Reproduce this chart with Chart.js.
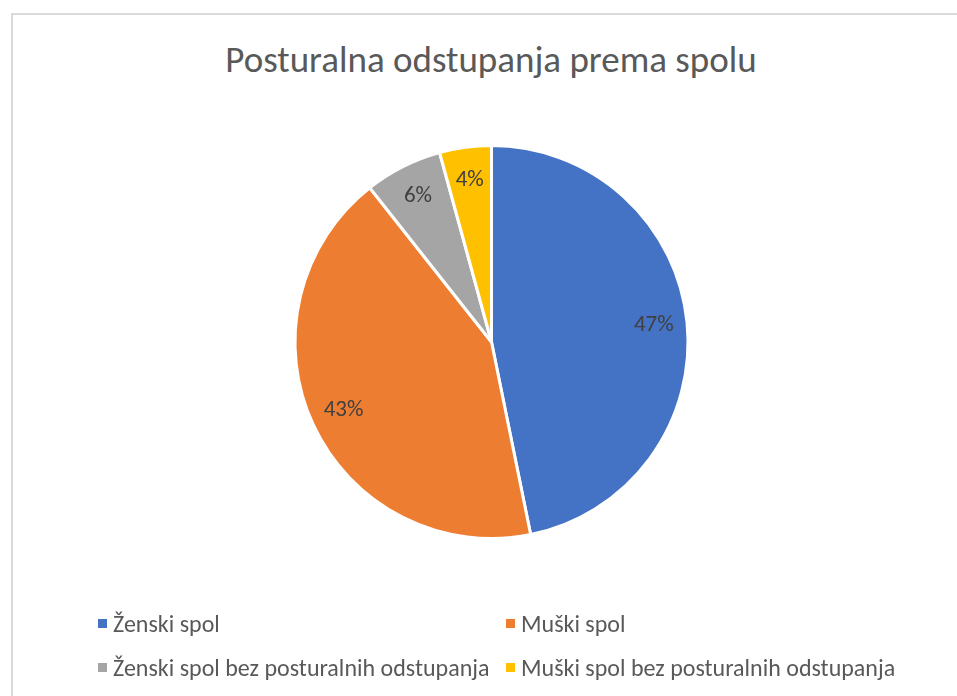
<!DOCTYPE html>
<html>
<head>
<meta charset="utf-8">
<script src="https://cdn.jsdelivr.net/npm/chart.js@4/dist/chart.umd.min.js"></script>
<style>
  body { margin: 0; background: #fff; font-family: Carlito, "Open Sans", sans-serif; }
  #wrap { position: relative; width: 957px; height: 696px; overflow: hidden; }
  #frame { position: absolute; left: 11px; top: 13px; right: -10px; bottom: -10px;
           border-top: 2px solid #d9d9d9; border-left: 2px solid #d9d9d9; }
  #title { position: absolute; left: 0; width: 982px; top: 37px; text-align: center;
           font-size: 37px; color: #595959; line-height: normal; }
  canvas { position: absolute; left: 0; top: 0; }
  .leg { position: absolute; font-size: 24px; color: #595959; white-space: nowrap; line-height: normal; }
  .leg i { position: absolute; left: -15px; top: 10px; width: 9px; height: 9px; }
</style>
</head>
<body>
<div id="wrap">
  <div id="frame"></div>
  <div id="title">Posturalna odstupanja prema spolu</div>
  <canvas id="c" width="957" height="696"></canvas>
  <div id="legend"></div>
</div>
<script>
// data
const labels = ['Ženski spol', 'Muški spol', 'Ženski spol bez posturalnih odstupanja', 'Muški spol bez posturalnih odstupanja'];
const counts = [22, 20, 3, 2];
const colors = ['#4472c4', '#ed7d31', '#a5a5a5', '#ffc000'];

// legend in two columns, like the excel one
const legendPos = [[113, 609], [521, 609], [113, 653], [521, 653]];
const legend = document.getElementById('legend');
labels.forEach((lab, i) => {
  const d = document.createElement('div');
  d.className = 'leg';
  d.style.left = legendPos[i][0] + 'px';
  d.style.top = legendPos[i][1] + 'px';
  d.innerHTML = '<i style="background:' + colors[i] + '"></i>' + lab;
  legend.appendChild(d);
});

// percentage labels inside the slices
const pctLabels = {
  id: 'pctLabels',
  afterDatasetsDraw(chart) {
    const ctx = chart.ctx;
    const data = chart.data.datasets[0].data;
    const total = data.reduce((a, b) => a + b, 0);
    ctx.save();
    ctx.font = '23px Carlito, "Open Sans", sans-serif';
    ctx.fillStyle = '#404040';
    ctx.textAlign = 'center';
    ctx.textBaseline = 'middle';
    chart.getDatasetMeta(0).data.forEach((arc, i) => {
      const mid = (arc.startAngle + arc.endAngle) / 2;
      const r = arc.outerRadius * 0.83;
      const x = arc.x + Math.cos(mid) * r;
      const y = arc.y + Math.sin(mid) * r;
      ctx.fillText(Math.round(data[i] / total * 100) + '%', x, y);
    });
    ctx.restore();
  }
};

new Chart(document.getElementById('c').getContext('2d'), {
  type: 'pie',
  data: {
    labels: labels,
    datasets: [{
      data: counts,
      backgroundColor: colors,
      borderColor: '#ffffff',
      borderWidth: 3
    }]
  },
  options: {
    responsive: false,
    animation: false,
    events: [],
    layout: { padding: { top: 144, bottom: 156, left: 293, right: 267 } },
    plugins: {
      legend: { display: false },
      tooltip: { enabled: false },
      title: { display: false }
    }
  },
  plugins: [pctLabels]
});
</script>
</body>
</html>
